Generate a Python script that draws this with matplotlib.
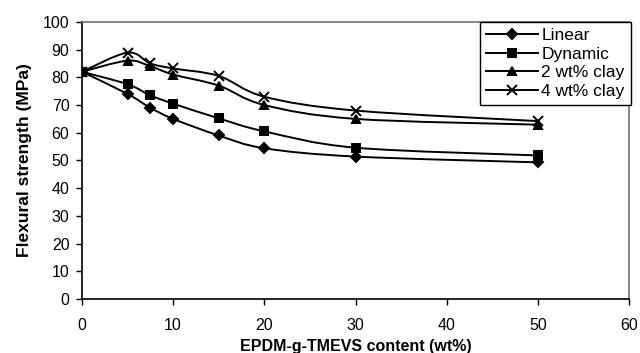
import numpy as np
from matplotlib import pyplot as plt
from matplotlib.path import Path
from matplotlib.patches import PathPatch
from matplotlib.lines import Line2D

plt.rcParams['font.family'] = ['Liberation Sans', 'DejaVu Sans']

content = [0, 5, 7.5, 10, 15, 20, 30, 50]
linear = [82, 74, 69, 65, 59, 54.4, 51.4, 49.3]
dynamic = [82, 77.5, 73.5, 70.5, 65.2, 60.5, 54.6, 51.8]
clay2 = [82, 86, 84, 81, 77, 70, 65, 62.9]
clay4 = [82, 88.9, 85, 83.2, 80.5, 73, 68, 64.2]

series = [
    ('Linear', linear, 'D', 5),
    ('Dynamic', dynamic, 's', 6),
    ('2 wt% clay', clay2, '^', 6),
    ('4 wt% clay', clay4, 'x', 7),
]


def smooth_path(x, y):
    # excel-like smoothed line: catmull-rom segments written as cubic beziers
    pts = np.column_stack([x, y]).astype(float)
    n = len(pts)
    verts = [pts[0]]
    codes = [Path.MOVETO]
    for i in range(n - 1):
        p0 = pts[max(i - 1, 0)]
        p1 = pts[i]
        p2 = pts[i + 1]
        p3 = pts[min(i + 2, n - 1)]
        c1 = p1 + (p2 - p0) / 6.0
        c2 = p2 - (p3 - p1) / 6.0
        verts += [c1, c2, p2]
        codes += [Path.CURVE4] * 3
    return Path(verts, codes)


fig = plt.figure(figsize=(6.4, 3.53), dpi=100)
ax = fig.add_axes([0.128, 0.153, 0.855, 0.785])

handles = []
for name, vals, mk, ms in series:
    ax.add_patch(PathPatch(smooth_path(content, vals), facecolor='none',
                           edgecolor='black', lw=1.4))
    ax.plot(content, vals, linestyle='none', marker=mk, markersize=ms,
            color='black', markeredgewidth=1.4)
    handles.append(Line2D([], [], color='black', lw=1.4, marker=mk,
                          markersize=ms, markeredgewidth=1.4, label=name))

ax.set_xlim(0, 60)
ax.set_ylim(0, 100)
ax.set_xticks(range(0, 61, 10))
ax.set_yticks(range(0, 101, 10))
ax.tick_params(labelsize=11.5, direction='out', length=4, width=1)
ax.tick_params(axis='x', pad=10)
ax.tick_params(axis='y', pad=5)

for side in ['top', 'right']:
    ax.spines[side].set_color('#707070')
    ax.spines[side].set_linewidth(1.2)
for side in ['left', 'bottom']:
    ax.spines[side].set_linewidth(1.2)

ax.set_xlabel('EPDM-g-TMEVS content (wt%)', fontsize=11.5, fontweight='bold', labelpad=4)
ax.set_ylabel('Flexural strength (MPa)', fontsize=12.5, fontweight='bold', labelpad=8)

leg = ax.legend(handles=handles, loc='upper right', bbox_to_anchor=(1.003, 1.0),
                borderaxespad=0, fancybox=False, framealpha=1, edgecolor='black',
                fontsize=12.5, handlelength=3.0, labelspacing=0.2,
                handletextpad=0.2, borderpad=0.35)
leg.get_frame().set_linewidth(1.0)

fig.savefig('out.png', dpi=100)
